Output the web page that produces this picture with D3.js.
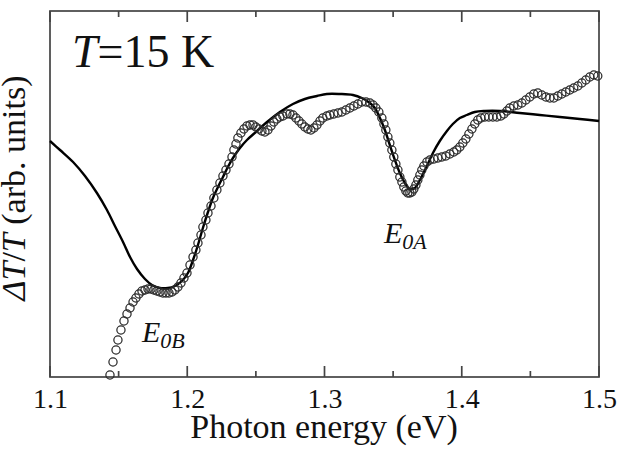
<!DOCTYPE html>
<html>
<head>
<meta charset="utf-8">
<script src="https://cdn.jsdelivr.net/npm/d3@7"></script>
<style>
  body { margin: 0; background: #fff; }
  text { font-family: "Liberation Serif", "Times New Roman", serif; fill: #111; }
</style>
</head>
<body>
<div id="chart"></div>
<script>
var expE = [1.1437,1.1459,1.1481,1.1495,1.1517,1.1539,1.1561,1.1583,1.1605,1.1626,1.1648,1.1670,1.1692,1.1714,1.1736,1.1757,1.1779,1.1801,1.1823,1.1845,1.1867,1.1889,1.1910,1.1932,1.1954,1.1976,1.1998,1.2020,1.2042,1.2063,1.2078,1.2100,1.2114,1.2136,1.2151,1.2173,1.2194,1.2216,1.2238,1.2260,1.2282,1.2304,1.2326,1.2340,1.2355,1.2369,1.2391,1.2413,1.2435,1.2457,1.2479,1.2500,1.2522,1.2544,1.2566,1.2588,1.2610,1.2631,1.2653,1.2675,1.2697,1.2726,1.2748,1.2770,1.2792,1.2814,1.2835,1.2857,1.2879,1.2901,1.2923,1.2945,1.2967,1.2988,1.3017,1.3039,1.3068,1.3098,1.3127,1.3156,1.3185,1.3214,1.3243,1.3272,1.3302,1.3331,1.3353,1.3374,1.3396,1.3418,1.3433,1.3447,1.3462,1.3476,1.3491,1.3505,1.3520,1.3535,1.3549,1.3564,1.3578,1.3593,1.3607,1.3622,1.3637,1.3651,1.3666,1.3680,1.3695,1.3709,1.3724,1.3746,1.3768,1.3797,1.3826,1.3855,1.3884,1.3913,1.3942,1.3964,1.3986,1.4008,1.4030,1.4052,1.4074,1.4095,1.4117,1.4139,1.4168,1.4197,1.4227,1.4256,1.4285,1.4307,1.4329,1.4350,1.4379,1.4409,1.4438,1.4467,1.4496,1.4525,1.4554,1.4583,1.4613,1.4642,1.4671,1.4700,1.4729,1.4758,1.4787,1.4816,1.4846,1.4875,1.4904,1.4933,1.4962,1.4991];
var expV = [2,15,27,37,47,56,63,69,75,79,83,86,87,88,88,87,86,85,84,84,84,85,87,90,94,99,104,112,120,127,134,142,150,157,164,171,179,187,194,201,207,213,220,227,233,239,244,248,251,252,252,250,248,246,245,247,251,255,258,260,261,263,263,262,259,256,253,250,248,247,249,252,256,259,261,262,263,264,265,267,269,271,273,275,275,274,272,269,265,259,253,247,240,234,227,220,213,207,200,195,190,186,184,184,185,188,192,197,202,207,211,215,217,218,219,220,221,223,225,227,230,234,238,243,248,253,257,259,260,260,260,260,261,263,266,269,271,272,274,277,280,283,284,282,280,279,279,281,283,285,287,289,291,294,297,300,302,301];

// curva teorica (linea continua)
var fitE = [1.1000,1.1073,1.1168,1.1255,1.1342,1.1415,1.1473,1.1532,1.1583,1.1634,1.1692,1.1743,1.1801,1.1859,1.1910,1.1961,1.2005,1.2042,1.2078,1.2114,1.2151,1.2187,1.2224,1.2260,1.2296,1.2333,1.2384,1.2435,1.2508,1.2581,1.2675,1.2770,1.2857,1.2945,1.3017,1.3112,1.3207,1.3272,1.3331,1.3367,1.3404,1.3440,1.3476,1.3513,1.3549,1.3586,1.3622,1.3658,1.3695,1.3746,1.3790,1.3840,1.3892,1.3935,1.3986,1.4037,1.4095,1.4168,1.4278,1.4423,1.4569,1.4715,1.4860,1.5000];
var fitV = [236,227,215,201,184,167,151,135,120,108,98,92,89,89,91,96,104,117,132,149,165,179,190,200,210,219,229,237,246,255,265,273,278,281,283,283,282,279,274,269,259,247,232,217,204,194,188,189,197,211,224,236,246,253,259,262,265,266,266,264,262,260,258,256];

var majorTicks = [1.1, 1.2, 1.3, 1.4, 1.5];
var minorTicks = [1.15, 1.25, 1.35, 1.45];

(function() {
  var width = 623, height = 451;
  var mLeft = 50, mRight = 599, mTop = 11, mBottom = 377;

  var svg = d3.select("#chart").append("svg")
    .attr("width", width)
    .attr("height", height);

  var x = d3.scaleLinear().domain([1.1, 1.5]).range([mLeft, mRight]);
  var y = d3.scaleLinear().domain([0, 366]).range([mBottom, mTop]);

  // etiquetas del eje x
  var ax = svg.append("g").attr("transform", "translate(0," + mBottom + ")")
    .call(d3.axisBottom(x).tickValues(majorTicks).tickSize(0).tickPadding(11).tickFormat(d3.format(".1f")));
  ax.select(".domain").remove();
  ax.attr("font-size", null).attr("font-family", null);
  ax.selectAll(".tick text").style("font-size", "28px").attr("fill", "#111");

  svg.append("rect")
    .attr("x", mLeft).attr("y", mTop)
    .attr("width", mRight - mLeft).attr("height", mBottom - mTop)
    .attr("fill", "none").attr("stroke", "#444").attr("stroke-width", 1.7);

  // marcas hacia dentro, arriba y abajo
  var ticks = majorTicks.map(function(v) { return { v: v, len: 11 }; })
    .concat(minorTicks.map(function(v) { return { v: v, len: 6 }; }));
  [mTop, mBottom].forEach(function(yy) {
    var dir = yy === mTop ? 1 : -1;
    svg.append("g").selectAll("line")
      .data(ticks)
      .enter()
      .append("line")
      .attr("x1", function(d) { return x(d.v); })
      .attr("x2", function(d) { return x(d.v); })
      .attr("y1", yy)
      .attr("y2", function(d) { return yy + dir * d.len; })
      .style("stroke", "#444")
      .style("stroke-width", "1.7px");
  });

  // curva
  var fitData = fitE.map(function(e, i) { return [e, fitV[i]]; });
  var line = d3.line()
    .x(function(d) { return x(d[0]); })
    .y(function(d) { return y(d[1]); })
    .curve(d3.curveCatmullRom);

  svg.append("path")
    .datum(fitData)
    .attr("d", line)
    .attr("fill", "none")
    .attr("stroke", "#000")
    .attr("stroke-width", 2.4);

  // puntos experimentales
  svg.selectAll("circle.exp")
    .data(expE.map(function(e, i) { return [e, expV[i]]; }))
    .enter()
    .append("circle")
    .attr("class", "exp")
    .attr("cx", function(d) { return x(d[0]); })
    .attr("cy", function(d) { return y(d[1]); })
    .attr("r", 4.1)
    .attr("fill", "none")
    .attr("stroke", "#2a2a2a")
    .attr("stroke-width", 1.25);

  // textos
  var t = svg.append("text").attr("x", 72).attr("y", 67).style("font-size", "46px");
  t.append("tspan").style("font-style", "italic").text("T");
  t.append("tspan").text("=15 K");

  function label(xp, yp, sub) {
    var l = svg.append("text").attr("x", xp).attr("y", yp).style("font-size", "30px").style("font-style", "italic");
    l.append("tspan").text("E");
    l.append("tspan").attr("dy", 6).style("font-size", "22px").text(sub);
  }
  label(142, 342, "0B");
  label(384, 243, "0A");

  svg.append("text")
    .attr("x", 324).attr("y", 438)
    .attr("text-anchor", "middle")
    .style("font-size", "34px")
    .text("Photon energy (eV)");

  var yl = svg.append("text")
    .attr("transform", "translate(25,188) rotate(-90)")
    .attr("text-anchor", "middle")
    .style("font-size", "34px");
  yl.append("tspan").style("font-style", "italic").text("ΔT");
  yl.append("tspan").text("/");
  yl.append("tspan").style("font-style", "italic").text("T");
  yl.append("tspan").text(" (arb. units)");
})();
</script>
</body>
</html>
